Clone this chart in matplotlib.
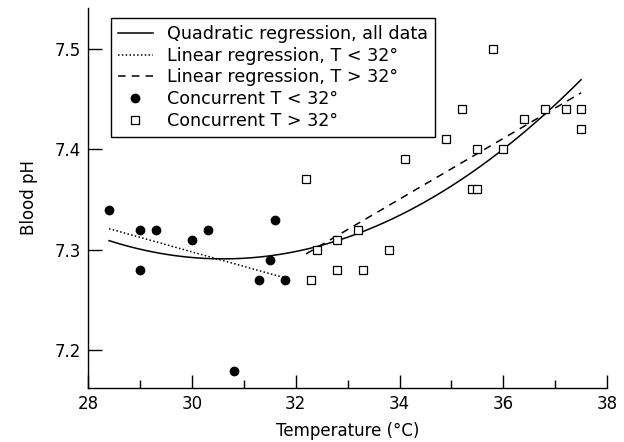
import numpy as np
import matplotlib
matplotlib.use("Agg")
import matplotlib.pyplot as plt
from matplotlib.ticker import MultipleLocator

plt.rcParams['font.family'] = ['DejaVu Sans']

# concurrent measurements, T < 32
cold_t = [28.4, 29.0, 29.0, 29.3, 30.0, 30.3, 30.8, 31.3, 31.5, 31.6, 31.8]
cold_ph = [7.34, 7.32, 7.28, 7.32, 7.31, 7.32, 7.18, 7.27, 7.29, 7.33, 7.27]

# concurrent measurements, T > 32
warm_t = [32.2, 32.3, 32.4, 32.8, 32.8, 33.2, 33.3, 33.8, 34.1, 34.9, 35.2,
          35.4, 35.5, 35.5, 35.8, 36.0, 36.4, 36.8, 37.2, 37.5, 37.5]
warm_ph = [7.37, 7.27, 7.30, 7.31, 7.28, 7.32, 7.28, 7.30, 7.39, 7.41, 7.44,
           7.36, 7.36, 7.40, 7.50, 7.40, 7.43, 7.44, 7.44, 7.44, 7.42]

# regression lines
lin_cold_t = [28.4, 31.8]
lin_cold_ph = [7.321, 7.272]
lin_warm_t = [32.2, 37.5]
lin_warm_ph = [7.296, 7.456]
quad_range = [28.4, 37.5]
quad_a, quad_h, quad_k = 0.00374, 30.6, 7.291  # y = a (x - h)^2 + k

fig = plt.figure(figsize=(6.24, 4.42), dpi=100)
ax = fig.add_axes([0.1415, 0.1229, 0.8313, 0.8583])

xq = np.linspace(quad_range[0], quad_range[1], 200)
ax.plot(xq, quad_a * (xq - quad_h) ** 2 + quad_k, color='black', lw=1.1,
        label='Quadratic regression, all data')
ax.plot(lin_cold_t, lin_cold_ph, color='black', lw=1.1, ls=(0, (1, 1.5)),
        label='Linear regression, T < 32°')
ax.plot(lin_warm_t, lin_warm_ph, color='black', lw=1.1, ls=(0, (5, 4)),
        label='Linear regression, T > 32°')
ax.plot(cold_t, cold_ph, 'o', color='black', ms=6, ls='none',
        label='Concurrent T < 32°')
ax.plot(warm_t, warm_ph, 's', mfc='white', mec='black', mew=0.9, ms=5.5,
        ls='none', label='Concurrent T > 32°')

ax.set_xlim(28, 38)
ax.set_ylim(7.163, 7.54)
ax.xaxis.set_major_locator(MultipleLocator(2))
ax.xaxis.set_minor_locator(MultipleLocator(1))
ax.set_yticks([7.2, 7.3, 7.4, 7.5])
ax.tick_params(axis='x', which='major', direction='in', length=9.5, width=1, labelsize=12, pad=5)
ax.tick_params(axis='x', which='minor', direction='in', length=5.5, width=1)
ax.tick_params(axis='y', direction='in', length=10, width=1, labelsize=12, pad=5)
for s in ['top', 'right']:
    ax.spines[s].set_visible(False)
for s in ['left', 'bottom']:
    ax.spines[s].set_linewidth(1)
ax.spines['bottom'].set_bounds(28, 38)

ax.set_xlabel('Temperature (°C)', fontsize=12, labelpad=7)
ax.set_ylabel('Blood pH', fontsize=12, labelpad=12)

leg = ax.legend(loc='upper left', bbox_to_anchor=(0.043, 0.975), fontsize=12.6,
                frameon=True, fancybox=False, edgecolor='black', framealpha=1,
                handlelength=2.0, handletextpad=0.8, labelspacing=0.22,
                borderpad=0.4, borderaxespad=0)
leg.get_frame().set_linewidth(1)

fig.savefig('out.png', dpi=100)
